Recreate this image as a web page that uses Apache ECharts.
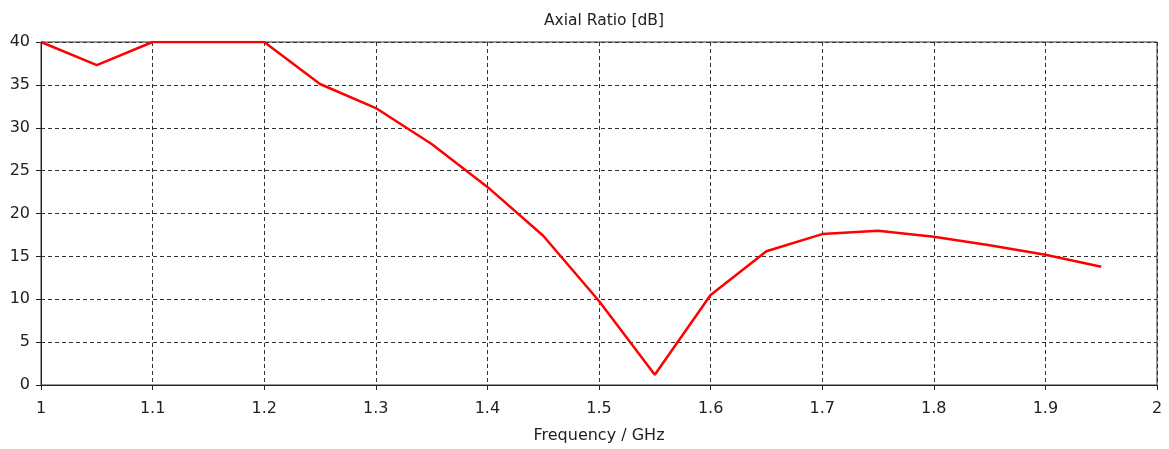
<!DOCTYPE html>
<html>
<head>
<meta charset="utf-8">
<script src="https://cdn.jsdelivr.net/npm/echarts@6/dist/echarts.min.js"></script>
<style>
  html, body { margin: 0; padding: 0; background: #fff; }
  #chart { width: 1169px; height: 449px; }
</style>
</head>
<body>
<div id="chart"></div>
<script>
// frequency in GHz and axial ratio in dB
const freq = [1, 1.05, 1.1, 1.15, 1.2, 1.25, 1.3, 1.35, 1.4, 1.45, 1.5, 1.55, 1.6, 1.65, 1.7, 1.75, 1.8, 1.85, 1.9, 1.95];
const axialRatio = [40, 37.3, 40, 40, 40, 35.1, 32.3, 28.1, 23.1, 17.4, 9.8, 1.2, 10.5, 15.6, 17.6, 18.0, 17.3, 16.3, 15.2, 13.8];

const chart = echarts.init(document.getElementById('chart'));
const font = 'DejaVu Sans';

chart.setOption({
  backgroundColor: '#fff',
  animation: false,
  title: {
    text: 'Axial Ratio [dB]',
    left: 599,
    textAlign: 'center',
    top: 8,
    textStyle: { fontFamily: font, fontSize: 15.5, fontWeight: 'normal', color: '#222' }
  },
  grid: { left: 41, right: 12, top: 42, bottom: 63, show: true, borderColor: '#333', borderWidth: 1 },
  xAxis: {
    type: 'value',
    min: 1, max: 2, interval: 0.1,
    name: 'Frequency / GHz',
    nameLocation: 'middle',
    nameGap: 43,
    nameTextStyle: { fontFamily: font, fontSize: 16, color: '#222' },
    axisLine: { show: true, lineStyle: { color: '#222' } },
    axisTick: { show: true, length: 5, lineStyle: { color: '#222' } },
    axisLabel: { fontFamily: font, fontSize: 16, color: '#222', margin: 16, formatter: v => String(+v.toFixed(1)) },
    splitLine: { show: true, lineStyle: { color: '#333', type: [4, 3] } }
  },
  yAxis: {
    type: 'value',
    min: 0, max: 40, interval: 5,
    axisLine: { show: true, lineStyle: { color: '#222' } },
    axisTick: { show: true, length: 5, lineStyle: { color: '#222' } },
    axisLabel: { fontFamily: font, fontSize: 16, color: '#222', margin: 11 },
    splitLine: { show: true, lineStyle: { color: '#333', type: [4, 3] } }
  },
  series: [{
    type: 'line',
    data: freq.map((f, i) => [f, axialRatio[i]]),
    symbol: 'none',
    lineStyle: { color: '#ff0000', width: 2.5 }
  }]
});
</script>
</body>
</html>
